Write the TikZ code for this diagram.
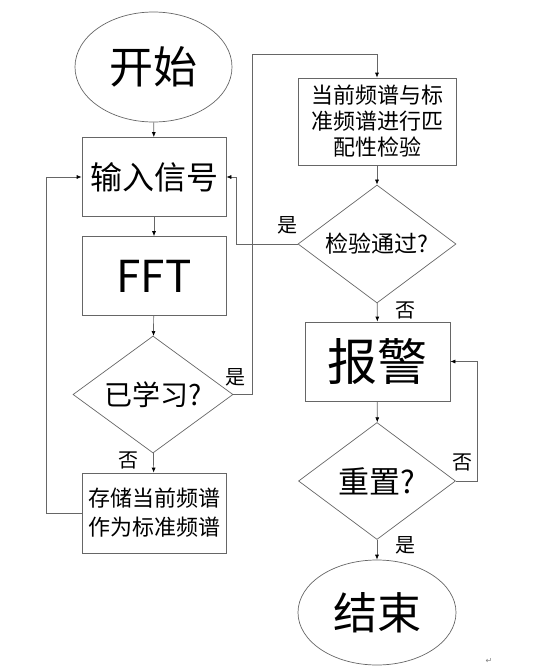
\documentclass[tikz,border=0pt]{standalone}
\usepackage{fontspec}
\setmainfont{Noto Sans CJK SC}
\newfontfamily\symfont{DejaVu Sans}
\usetikzlibrary{shapes.geometric,arrows.meta}

\tikzset{
  line/.style={draw=black!60, line width=0.7pt},
  arr/.style={line, -{Latex[length=5pt,width=4pt,black]}},
  box/.style={line, rectangle, inner sep=0pt, align=center},
  cond/.style={line, diamond, aspect=1.36, inner sep=0pt},
  term/.style={line, ellipse, inner sep=0pt},
  tag/.style={font=\fontsize{20}{20}\selectfont, inner sep=0pt}
}

\begin{document}
\begin{tikzpicture}[x=1pt,y=-1pt]

\useasboundingbox (0,0) rectangle (534,672);

% left column
\node[term, minimum width=157pt, minimum height=110pt, font=\fontsize{44}{44}\selectfont] (start) at (153.5,67) {开始};
\node[box, minimum width=144pt, minimum height=79pt, font=\fontsize{32}{32}\selectfont] (input) at (154,177) {输入信号};
\node[box, minimum width=144pt, minimum height=79pt, font=\fontsize{44}{44}\selectfont] (fft) at (154,276) {FFT};
\node[cond, minimum width=160pt, minimum height=117pt, font=\fontsize{28}{28}\selectfont] (learned) at (153,394.5) {已学习?};
\node[box, minimum width=144pt, minimum height=80pt, font=\fontsize{22}{29}\selectfont] (store) at (154,513) {存储当前频谱\\作为标准频谱};

% right column
\node[box, minimum width=158pt, minimum height=87pt, font=\fontsize{22}{26}\selectfont] (match) at (377,121.5) {当前频谱与标\\准频谱进行匹\\配性检验};
\node[cond, minimum width=158pt, minimum height=118pt, font=\fontsize{23}{23}\selectfont] (check) at (377,244) {检验通过?};
\node[box, minimum width=145pt, minimum height=79pt, font=\fontsize{50}{50}\selectfont] (alarm) at (377.5,361.5) {报警};
\node[cond, minimum width=157pt, minimum height=117pt, font=\fontsize{31}{31}\selectfont] (reset) at (377,481) {重置?};
\node[term, minimum width=158pt, minimum height=105pt, font=\fontsize{44}{44}\selectfont] (finish) at (377,612.5) {结束};

\coordinate (top) at (252,54);

% arrows
\draw[arr] (start) -- (input);
\draw[arr] (input) -- (fft);
\draw[arr] (fft) -- (learned);
\draw[arr] (learned) -- (store);
\draw[arr] (store.west) -- ++(-35,0) |- (input.west);
\draw[arr] (learned.east) -| (top) -| (match.north);
\draw[arr] (match) -- (check);
\draw[arr] (check.west) -- ++(-61,0) |- (input.east);
\draw[arr] (check) -- (alarm);
\draw[arr] (alarm) -- (reset);
\draw[arr] (reset.east) -- ++(21,0) |- (alarm.east);
\draw[arr] (reset) -- (finish);

% labels
\node[tag] (yes1) at (235,377) {是};
\node[tag] (no1) at (128,460) {否};
\node[tag] (yes2) at (287,225) {是};
\node[tag] (no2) at (405,310) {否};
\node[tag] (no3) at (462,462) {否};
\node[tag] (yes3) at (405,545) {是};

\node[font=\symfont\fontsize{8}{8}\selectfont, text=black!50] (mark) at (489,661) {↵};

\end{tikzpicture}
\end{document}
